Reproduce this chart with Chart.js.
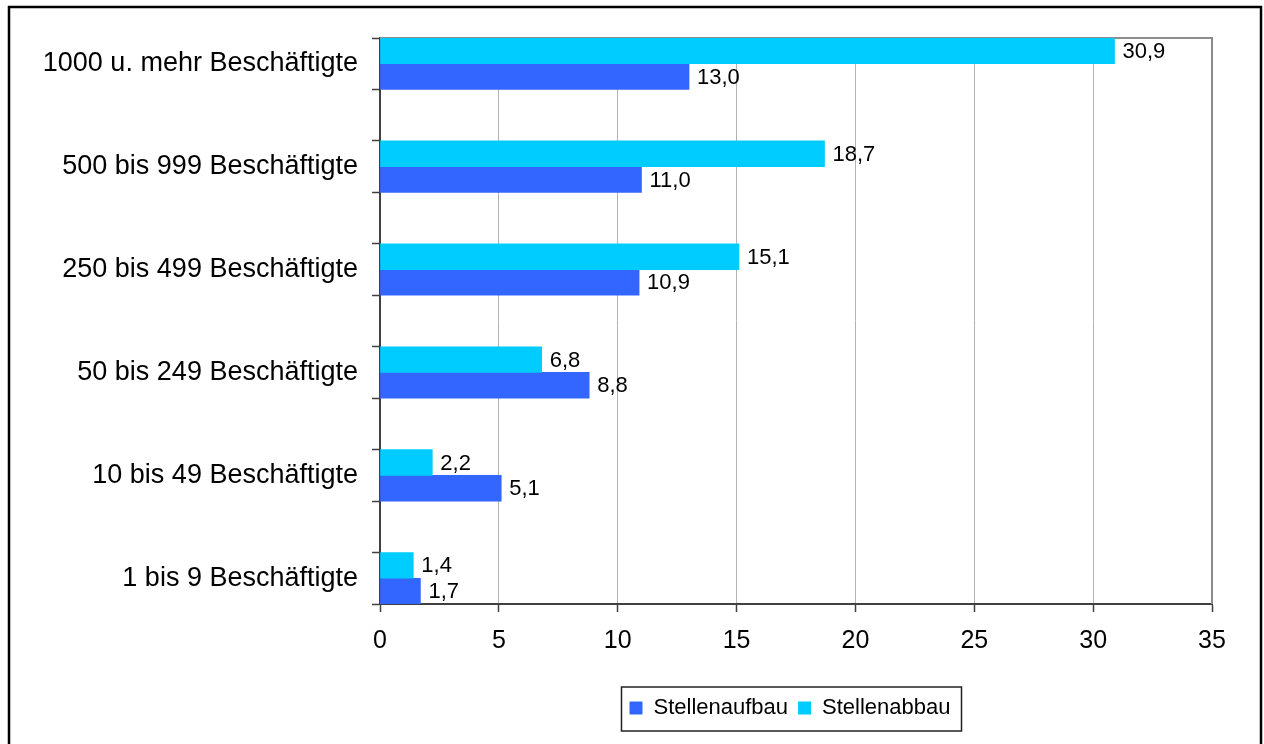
<!DOCTYPE html>
<html lang="de">
<head>
<meta charset="utf-8">
<title>Stellenaufbau und Stellenabbau nach Betriebsgröße</title>
<script src="https://cdn.jsdelivr.net/npm/chart.js@4.4.1/dist/chart.umd.min.js"></script>
<style>
  html, body { margin: 0; padding: 0; background: #fff; }
  canvas { display: block; }
</style>
</head>
<body>
<canvas id="chart" width="1264" height="744"></canvas>
<script>
const categories = [
  "1000 u. mehr Beschäftigte",
  "500 bis 999 Beschäftigte",
  "250 bis 499 Beschäftigte",
  "50 bis 249 Beschäftigte",
  "10 bis 49 Beschäftigte",
  "1 bis 9 Beschäftigte"
];
const aufbau = [13.0, 11.0, 10.9, 8.8, 5.1, 1.7];
const abbau = [30.9, 18.7, 15.1, 6.8, 2.2, 1.4];
const xTicks = [0, 5, 10, 15, 20, 25, 30, 35];

const BLUE = "#3366FF";
const CYAN = "#00CCFF";
const AXIS = "#404040";

// empty rows between the size classes, like the gaps in the bar blocks
function spaced(list, blank) {
  const out = [];
  list.forEach((v, i) => {
    if (i > 0) out.push(blank);
    out.push(v);
  });
  return out;
}

const fmt = v => v.toFixed(1).replace(".", ",");

Chart.defaults.font.family = "'Liberation Sans', Arial, sans-serif";
Chart.defaults.color = "#000";

const framePlugin = {
  id: "frame",
  afterLayout(chart) {
    // legend is centred under the plot area, not the whole canvas
    const lg = chart.legend;
    lg.left = chart.chartArea.left - 12;
    lg.right = chart.chartArea.right;
    lg.width = lg.right - lg.left;
  },
  beforeDraw(chart) {
    const ctx = chart.ctx;
    ctx.save();
    ctx.fillStyle = "#fff";
    ctx.fillRect(0, 0, chart.width, chart.height);
    ctx.strokeStyle = "#000";
    ctx.lineWidth = 2.5;
    ctx.strokeRect(9, 7, 1252, 800);
    ctx.restore();
  },
  beforeDatasetsDraw(chart) {
    const { ctx, chartArea: a } = chart;
    ctx.save();
    ctx.strokeStyle = "#8c8c8c";
    ctx.lineWidth = 2;
    ctx.beginPath();
    ctx.moveTo(a.left, a.top);
    ctx.lineTo(a.right, a.top);
    ctx.lineTo(a.right, a.bottom);
    ctx.stroke();
    ctx.restore();
  },
  afterDraw(chart) {
    // box round the legend entries
    const boxes = chart.legend.legendHitBoxes;
    if (!boxes || !boxes.length) return;
    const first = boxes[0];
    const last = boxes[boxes.length - 1];
    const ctx = chart.ctx;
    ctx.save();
    ctx.strokeStyle = "#222";
    ctx.lineWidth = 1.5;
    ctx.strokeRect(first.left - 8, first.top - 10, last.left + last.width - first.left + 19, first.height + 22);
    ctx.restore();
  }
};

const valueLabels = {
  id: "valueLabels",
  afterDatasetsDraw(chart) {
    const ctx = chart.ctx;
    ctx.save();
    ctx.font = "22px 'Liberation Sans', Arial, sans-serif";
    ctx.fillStyle = "#000";
    ctx.textAlign = "left";
    ctx.textBaseline = "middle";
    chart.data.datasets.forEach((ds, di) => {
      chart.getDatasetMeta(di).data.forEach((bar, i) => {
        const v = ds.data[i];
        if (v == null) return;
        ctx.fillText(fmt(v), bar.x + 8, bar.y + 1);
      });
    });
    ctx.restore();
  }
};

new Chart(document.getElementById("chart"), {
  type: "bar",
  data: {
    labels: spaced(categories, ""),
    datasets: [
      { label: "Stellenabbau", data: spaced(abbau, null), backgroundColor: CYAN },
      { label: "Stellenaufbau", data: spaced(aufbau, null), backgroundColor: BLUE }
    ]
  },
  options: {
    indexAxis: "y",
    responsive: false,
    animation: false,
    devicePixelRatio: 1,
    categoryPercentage: 1,
    barPercentage: 1,
    layout: { padding: { top: 38, right: 52, left: 12, bottom: 15 } },
    scales: {
      x: {
        min: xTicks[0],
        max: xTicks[xTicks.length - 1],
        afterBuildTicks: scale => { scale.ticks = xTicks.map(v => ({ value: v })); },
        afterFit: scale => { scale.height = 83; },
        ticks: { font: { size: 25 }, padding: 14, color: "#000" },
        grid: { color: "#b3b3b3", lineWidth: 1, tickColor: AXIS, tickLength: 8, tickWidth: 1.5 },
        border: { color: AXIS, width: 2 }
      },
      y: {
        afterFit: scale => { scale.width = 368; },
        ticks: { font: { size: 27 }, padding: 14, color: "#000", autoSkip: false },
        grid: { drawOnChartArea: false, tickColor: AXIS, tickLength: 8, tickWidth: 1.5 },
        border: { color: AXIS, width: 2 }
      }
    },
    plugins: {
      tooltip: { enabled: false },
      legend: {
        position: "bottom",
        reverse: true,
        labels: { boxWidth: 13, boxHeight: 13, padding: 10, font: { size: 22 }, color: "#000" }
      }
    }
  },
  plugins: [framePlugin, valueLabels]
});
</script>
</body>
</html>
